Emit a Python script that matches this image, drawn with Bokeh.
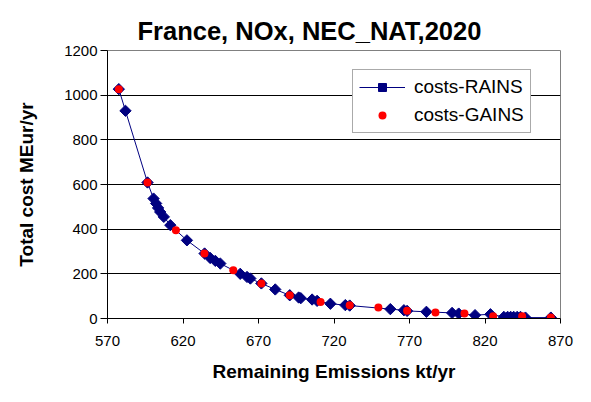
from bokeh.plotting import figure
from bokeh.models import FixedTicker, Legend, LegendItem
from bokeh.embed import file_html
from bokeh.resources import INLINE
import numpy as np

# ---- data ----
rains_x = [577.5, 581.9, 596.5, 600.5, 602.2, 603.5, 604.9, 607.3, 611.6, 622.6,
           634.3, 638.0, 641.4, 644.7, 657.9, 662.4, 664.6, 671.9, 681.1, 690.7,
           696.6, 698.0, 705.5, 708.8, 717.6, 727.5, 730.4, 757.3, 766.3, 768.4,
           781.2, 798.2, 802.6, 813.4, 823.6, 832.5, 835.0, 837.0, 839.0, 841.3,
           843.5, 846.8, 863.6]
rains_y = [1027, 930, 609, 537, 515, 495, 477, 455, 418, 350,
           291, 271, 258, 246, 200, 186, 179, 157, 130, 104,
           94, 91, 85, 79, 66, 60, 58, 42, 37, 34,
           30, 25, 22, 15, 19, 7, 7, 7, 7, 7,
           7, 4, 4]
gains_x = [577.5, 596.5, 615.3, 634.2, 653.3, 671.9, 690.7, 711.1, 730.4, 749.4,
           768.4, 787.2, 806.4, 825.4, 844.6, 863.6]
gains_y = [1027, 609, 395, 291, 216, 157, 104, 74, 59, 49,
           35, 27, 22, 10, 10, 4]
x_ticks = [570, 620, 670, 720, 770, 820, 870]
y_ticks = [0, 200, 400, 600, 800, 1000, 1200]

FONT = "Liberation Sans"

p = figure(width=583, height=394, output_backend="svg", toolbar_location=None,
           x_range=(570, 870), y_range=(0, 1200),
           min_border_left=107, min_border_right=23, min_border_top=50, min_border_bottom=76,
           title="France, NOx, NEC_NAT,2020")

p.title.text_font = FONT
p.title.text_font_size = "25.5px"
p.title.text_font_style = "bold"
p.title.text_color = "black"
p.title.align = "left"
p.title.offset = 30
p.title.standoff = 11

p.outline_line_color = "#808080"
p.outline_line_width = 1
p.background_fill_color = "white"
p.border_fill_color = "white"

p.xgrid.visible = False
p.ygrid.ticker = FixedTicker(ticks=y_ticks[1:-1])
p.ygrid.grid_line_color = "black"
p.ygrid.grid_line_width = 1

for ax in (p.xaxis[0], p.yaxis[0]):
    ax.axis_line_color = "black"
    ax.axis_line_width = 1
    ax.major_tick_line_color = "black"
    ax.minor_tick_line_color = None
    ax.major_tick_in = 0
    ax.major_label_text_font = FONT
    ax.major_label_text_font_size = "15px"
    ax.major_label_text_color = "black"
    ax.axis_label_text_font = FONT
    ax.axis_label_text_font_size = "19px"
    ax.axis_label_text_font_style = "bold"
    ax.axis_label_text_color = "black"

p.xaxis.ticker = FixedTicker(ticks=x_ticks)
p.yaxis.ticker = FixedTicker(ticks=y_ticks)
p.xaxis.major_tick_out = 5
p.yaxis.major_tick_out = 7
p.xaxis.major_label_standoff = 12
p.yaxis.major_label_standoff = 3
p.xaxis.axis_label = "Remaining Emissions kt/yr"
p.yaxis.axis_label = "Total cost MEur/yr"
p.xaxis.axis_label_standoff = 12
p.yaxis.axis_label_standoff = 24

line_r = p.line(rains_x, rains_y, line_color="#000080", line_width=1)
diam_r = p.scatter(rains_x, rains_y, marker="square", angle=np.pi / 4, size=8,
                   fill_color="#000080", line_color="#000080")
gains_r = p.scatter(gains_x, gains_y, marker="circle", size=8,
                    fill_color="#ff0000", line_color=None)

legend = Legend(items=[LegendItem(label="costs-RAINS", renderers=[line_r, diam_r]),
                       LegendItem(label="costs-GAINS", renderers=[gains_r])],
                location=(245, 185))
legend.label_text_font = FONT
legend.label_text_font_size = "19px"
legend.label_text_color = "black"
legend.glyph_width = 46
legend.glyph_height = 20
legend.label_height = 20
legend.label_standoff = 9
legend.spacing = 6
legend.padding = 6
legend.margin = 0
legend.border_line_color = "#555555"
legend.border_line_width = 1
legend.background_fill_alpha = 1
p.add_layout(legend)

open("out.html", "w").write(file_html(p, INLINE))
